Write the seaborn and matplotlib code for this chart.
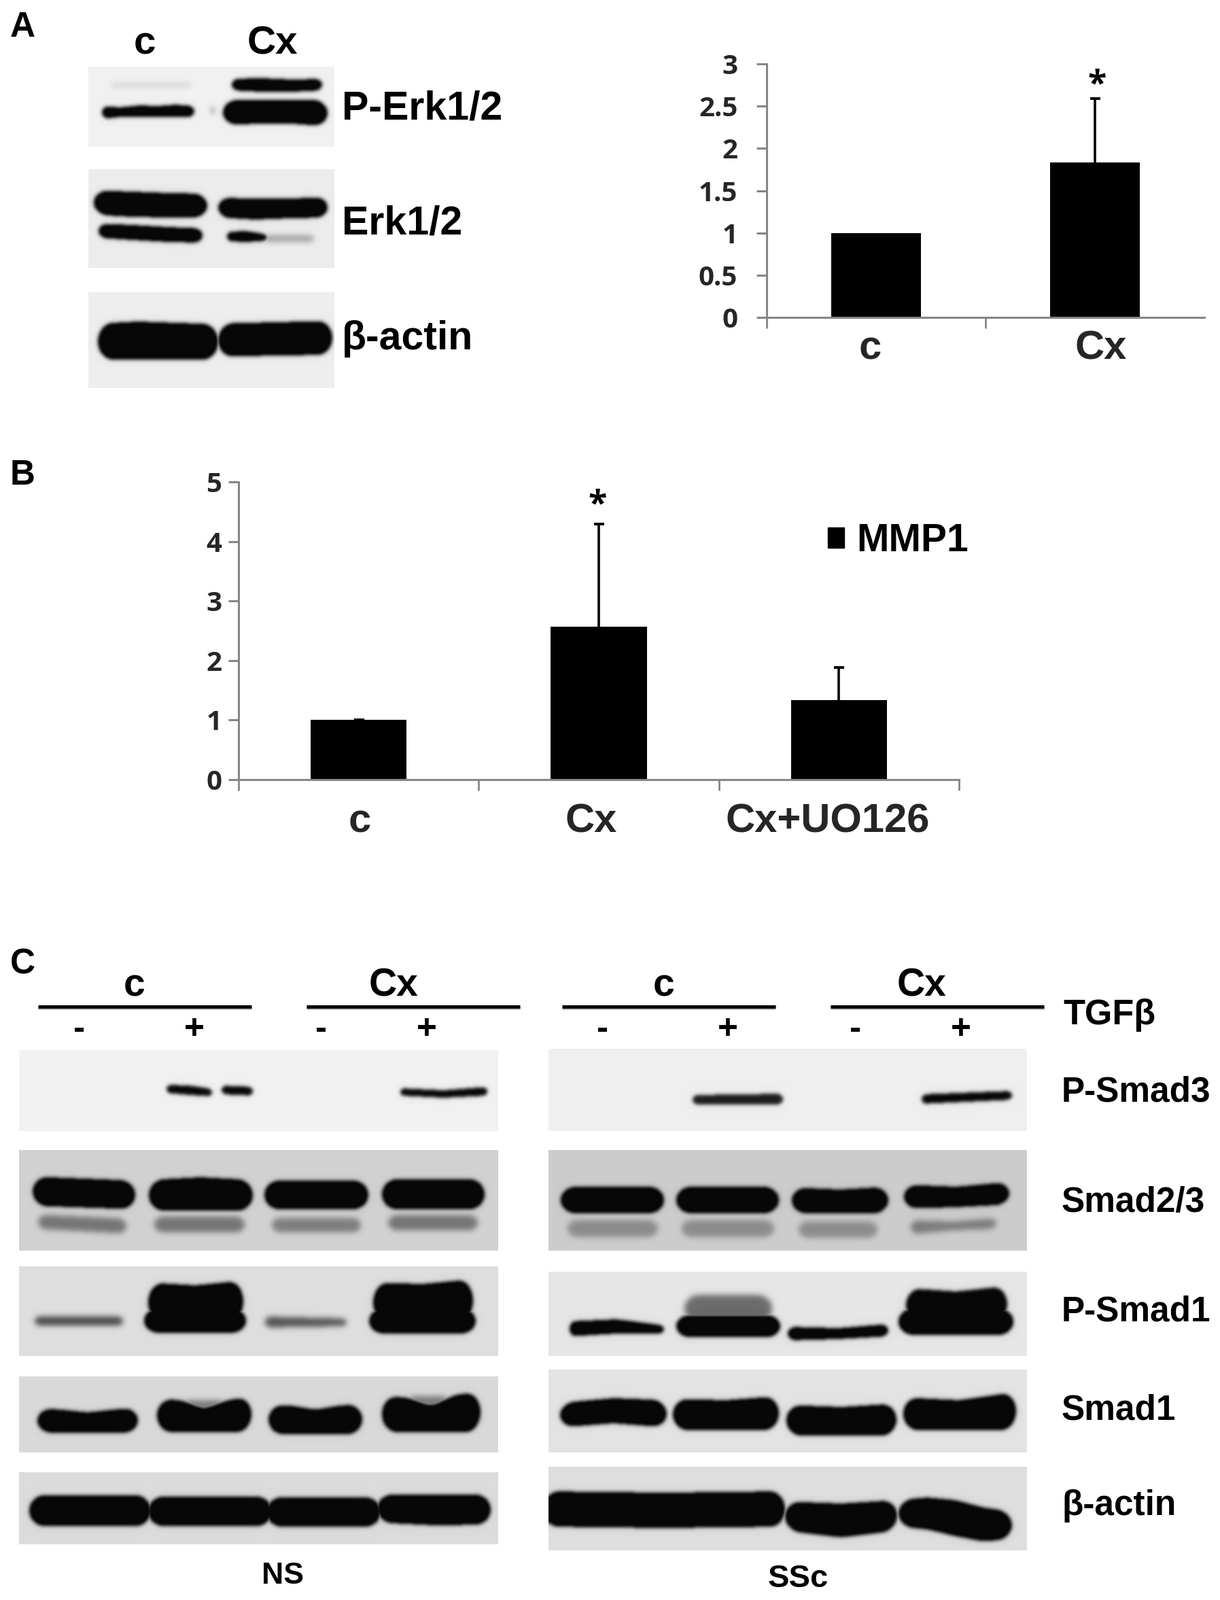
import numpy as np
import matplotlib
matplotlib.use("Agg")
import matplotlib.pyplot as plt
from matplotlib.patches import Patch
from matplotlib.transforms import ScaledTranslation
import seaborn as sns

# ---------- chart data ----------
A_CATEGORIES = ["c", "Cx"]
A_VALUES = [1.0, 1.83]
A_ERR_TOPS = [1.0, 2.59]
A_YTICKS = [0, 0.5, 1, 1.5, 2, 2.5, 3]
A_YLABELS = ["0", "0.5", "1", "1.5", "2", "2.5", "3"]

B_CATEGORIES = ["c", "Cx", "Cx+UO126"]
B_VALUES = [1.0, 2.57, 1.34]
B_ERR_TOPS = [1.01, 4.29, 1.88]
B_YTICKS = [0, 1, 2, 3, 4, 5]
B_SERIES = "MMP1"

# ---------- blot artwork: (x0, x1, top(s), bottom(s), darkness) in image pixels ----------
BLOTS = [
    # panel A
    (130, 492, 98, 216, 0.945, [
        (163, 281, 121, 129, 0.10),
        (150, 286, (156, 158, 155, 156, 154, 156), (175, 172, 172, 172, 172, 172), 1),
        (341, 474, (116, 115, 117, 116), (133, 135, 135, 133), 1),
        (328, 482, 147, (184, 182, 182, 186), 1), (311, 315, 157, 168, 0.5)]),
    (130, 492, 249, 394, 0.925, [
        (138, 305, (280, 282, 284, 285), (316, 319, 320, 320), 1),
        (321, 482, (291, 292, 292, 290), (320, 323, 321, 320), 1),
        (145, 298, (329, 331, 334, 336), (350, 353, 356, 357), 1),
        (334, 393, (341, 340, 345), (355, 356, 354), 1), (388, 462, 346, 356, 0.30)]),
    (130, 492, 430, 571, 0.93, [
        (144, 321, (476, 473, 475, 477), 529, 1), (321, 489, (476, 474, 472), (525, 523, 522), 1)]),
    # panel C, NS
    (28, 733, 1545, 1664, 0.945, [
        (245, 312, (1596, 1597, 1602), (1608, 1611, 1613), 0.95), (326, 372, (1597, 1599), (1610, 1612), 0.95),
        (589, 717, (1601, 1604, 1599), (1612, 1615, 1612), 0.95)]),
    (28, 733, 1692, 1840, 0.82, [
        (48, 199, (1731, 1737), (1774, 1779), 1), (219, 372, (1736, 1732, 1736), 1781, 1),
        (389, 542, 1737, 1779, 1), (562, 713, 1735, 1779, 1),
        (56, 186, (1787, 1793), (1808, 1815), 0.42), (227, 360, 1790, 1813, 0.42),
        (400, 531, 1792, 1813, 0.38), (571, 703, 1788, 1810, 0.42)]),
    (28, 733, 1863, 1995, 0.87, [
        (51, 181, 1937, 1950, 0.65),
        (218, 358, (1887, 1891, 1884), 1945, 1), (212, 362, 1925, 1961, 1),
        (390, 510, (1937, 1940), (1953, 1951), 0.6),
        (549, 696, (1887, 1889, 1882), 1945, 1), (543, 700, 1925, 1962, 1)]),
    (28, 733, 2025, 2137, 0.85, [
        (55, 203, (2072, 2074, 2078, 2074, 2071), 2108, 1),
        (231, 370, (2058, 2060, 2072, 2060, 2054), 2107, 1), (270, 330, 2060, 2076, 0.4),
        (395, 533, (2067, 2068, 2074, 2068, 2066), 2110, 1),
        (562, 707, (2054, 2056, 2068, 2052, 2048), 2107, 1), (600, 660, 2054, 2072, 0.4)]),
    (28, 733, 2166, 2272, 0.86, [
        (43, 222, 2200, 2245, 1), (218, 400, 2202, 2245, 1), (392, 560, 2203, 2246, 1),
        (555, 722, 2199, (2240, 2244, 2243), 1)]),
    # panel C, SSc
    (807, 1511, 1543, 1664, 0.935, [
        (1019, 1152, (1611, 1609), 1625, 0.85), (1356, 1489, (1610, 1605), (1624, 1618), 0.95)]),
    (807, 1511, 1692, 1840, 0.80, [
        (825, 977, 1746, 1785, 1), (995, 1146, 1746, 1785, 1), (1165, 1307, (1747, 1750, 1746), 1785, 1),
        (1330, 1485, (1743, 1746, 1739), (1778, 1776, 1772), 1),
        (835, 968, 1795, 1820, 0.30), (1003, 1139, 1795, 1820, 0.30),
        (1175, 1291, 1797, 1821, 0.30), (1340, 1466, (1795, 1797, 1792), (1816, 1810, 1808), 0.38)]),
    (807, 1511, 1871, 1995, 0.90, [
        (838, 977, (1944, 1941, 1950), (1966, 1962, 1962), 1), (995, 1148, 1935, 1967, 1),
        (1007, 1136, 1905, 1945, 0.5),
        (1159, 1307, (1952, 1954, 1948), (1972, 1970, 1966), 1), (1322, 1491, 1925, 1964, 1),
        (1333, 1482, (1895, 1900, 1892), 1945, 0.95)]),
    (807, 1511, 2015, 2137, 0.89, [
        (824, 981, (2064, 2057, 2060), (2100, 2094, 2100), 1), (990, 1146, (2058, 2060, 2054), 2104, 1),
        (1157, 1319, (2067, 2070, 2065), 2112, 1), (1329, 1495, (2056, 2060, 2048), 2104, 1)]),
    (807, 1511, 2158, 2281, 0.87, [
        (800, 1155, (2194, 2196, 2194), (2246, 2248, 2246), 1),
        (1155, 1320, (2209, 2212, 2207), (2252, 2262, 2252), 1),
        (1322, 1489, (2207, 2203, 2207, 2218, 2224), (2246, 2250, 2260, 2268, 2264), 1)]),
]

W, H = 1795, 2354
sns.set_theme(style="white")
plt.rcParams["font.family"] = ["Liberation Sans", "DejaVu Sans"]
plt.rcParams["text.color"] = "black"

fig = plt.figure(figsize=(W / 100, H / 100), dpi=100, facecolor="white")


def ax_px(left, top, right, bottom):
    return fig.add_axes([left / W, 1 - bottom / H, (right - left) / W, (bottom - top) / H])


def smooth(arr, sigma):
    r = int(3 * sigma)
    k = np.exp(-0.5 * (np.arange(-r, r + 1) / sigma) ** 2)
    k /= k.sum()
    pad = np.pad(arr, r, mode="edge")
    pad = np.apply_along_axis(lambda v: np.convolve(v, k, mode="same"), 0, pad)
    pad = np.apply_along_axis(lambda v: np.convolve(v, k, mode="same"), 1, pad)
    return pad[r:-r, r:-r]


def render_blot(x0, x1, y0, y1, bg, bands):
    nx, ny = x1 - x0, y1 - y0
    ys, xs = np.mgrid[y0:y1, x0:x1] + 0.5
    dark = np.zeros((ny, nx))
    for bx0, bx1, top, bot, d in bands:
        pos = (xs[0] - bx0) / (bx1 - bx0)
        t = np.atleast_1d(top).astype(float)
        b = np.atleast_1d(bot).astype(float)
        tt = np.interp(pos, np.linspace(0, 1, len(t)), t) if len(t) > 1 else np.full(nx, t[0])
        bb = np.interp(pos, np.linspace(0, 1, len(b)), b) if len(b) > 1 else np.full(nx, b[0])
        tt = smooth(np.tile(tt, (3, 1)), 5)[1]
        bb = smooth(np.tile(bb, (3, 1)), 5)[1]
        cy, hh = (tt + bb) / 2, (bb - tt) / 2
        r = min(np.mean(hh) * 1.2, (bx1 - bx0) / 2, 22)
        dist = np.minimum(xs[0] - bx0, bx1 - xs[0])
        f = np.where(dist >= r, 1.0,
                     np.sqrt(np.clip(1 - ((r - np.clip(dist, 0, r)) / r) ** 2, 0, 1)))
        inside = (np.abs(ys - cy) <= hh * f) & (dist > 0)
        sig = 2.6 if d >= 0.8 else 4.0
        dark = np.maximum(dark, smooth(inside.astype(float), sig) * d)
    halo = smooth(dark, 7) * 0.10
    img = bg * (1 - np.clip(dark + halo, 0, 1)) + 0.03 * dark
    return np.clip(img, 0, 1)


# background layer in image pixels
bgax = fig.add_axes([0, 0, 1, 1], zorder=0)
bgax.set_xlim(0, W)
bgax.set_ylim(H, 0)
bgax.axis("off")
for x0, x1, y0, y1, bg, bands in BLOTS:
    bgax.imshow(render_blot(x0, x1, y0, y1, bg, bands), cmap="gray", vmin=0, vmax=1,
                extent=(x0, x1, y1, y0), aspect="auto", interpolation="bilinear")
bgax.set_xlim(0, W)
bgax.set_ylim(H, 0)

GRAY = "#868686"
TICK_FONT = "Open Sans"


def bar_panel(box, cats, vals, tops, ylim, yticks, ylabels, width, bound_ticks, label_pos, pad_y, pad_x, star_x, star_y):
    ax = ax_px(*box)
    ax.set_zorder(2)
    ax.patch.set_alpha(0)
    sns.barplot(x=cats, y=vals, color="black", saturation=1, width=width, ax=ax, edgecolor="none")
    v, tp = np.array(vals), np.array(tops)
    x = np.arange(len(cats))
    keep = tp > v
    eb = ax.errorbar(x[keep], v[keep], yerr=[np.zeros(keep.sum()), (tp - v)[keep]], fmt="none",
                     ecolor="black", elinewidth=2.6, capsize=5.4, capthick=2.8, zorder=1)
    eb[1][0].set_visible(False)
    ax.set_xlim(-0.5, len(cats) - 0.5)
    ax.set_ylim(*ylim)
    ax.set_yticks(yticks)
    ax.set_yticklabels(ylabels, family=TICK_FONT, fontweight="bold", fontsize=29)
    shift = ScaledTranslation(0, -3 / 100, fig.dpi_scale_trans)
    for lab in ax.get_yticklabels():
        lab.set_transform(lab.get_transform() + shift)
    ax.set_xticks(label_pos)
    ax.set_xticklabels(cats, family="Liberation Sans", fontweight="bold", fontsize=43)
    ax.set_xticks(bound_ticks, minor=True)
    ax.tick_params(axis="x", which="major", length=0, pad=pad_x)
    ax.tick_params(axis="x", which="minor", length=11.5, width=2, color=GRAY, bottom=True)
    ax.tick_params(axis="y", which="major", length=10.8, width=2.2, color=GRAY, pad=pad_y, left=True)
    for s in ("top", "right"):
        ax.spines[s].set_visible(False)
    for s in ("left", "bottom"):
        ax.spines[s].set_color(GRAY)
        ax.spines[s].set_linewidth(2.2)
    ax.grid(False)
    fig.text(star_x / W, 1 - star_y / H, "*", family=TICK_FONT, fontweight="bold", fontsize=36,
             ha="center", va="center", zorder=5)
    return ax


bar_panel((1128, 94, 1772, 467), A_CATEGORIES, A_VALUES, A_ERR_TOPS, (0, 3), A_YTICKS, A_YLABELS, 0.41,
          [-0.5, 0.5], [-0.028, 1.028], 20, 13, 1614, 125)
axb = bar_panel((351, 709, 1411, 1147), B_CATEGORIES, B_VALUES, B_ERR_TOPS, (0, 5), B_YTICKS,
                [str(t) for t in B_YTICKS], 0.40, [-0.5, 0.5, 1.5, 2.5], [0.004, 0.969, 1.954], 7, 25, 879, 743)
fig.legend(handles=[Patch(color="black", label=B_SERIES)], loc="center left",
           bbox_to_anchor=(1218 / W, 1 - 796 / H), bbox_transform=fig.transFigure, frameon=False,
           borderpad=0, borderaxespad=0, handlelength=0.42, handleheight=0.44, handletextpad=0.32,
           prop={"family": "Liberation Sans", "weight": "bold", "size": 41})


def txt(x, y, s, size, ha="center"):
    fig.text(x / W, 1 - y / H, s, fontsize=size, fontweight="bold", ha=ha, va="center",
             family=["Liberation Sans", "DejaVu Sans"], zorder=5)


# panel letters
txt(33, 40, "A", 37)
txt(33, 699, "B", 37)
txt(33, 1419, "C", 37)

# panel A labels
txt(213, 64, "c", 42)
txt(401, 64, "Cx", 42)
txt(503, 160, "P-Erk1/2", 42.5, "left")
txt(503, 329, "Erk1/2", 42.5, "left")
txt(503, 498, "β-actin", 42.5, "left")

# panel C header
for x, s in [(198, "c"), (579, "Cx"), (977, "c"), (1356, "Cx")]:
    txt(x, 1450, s, 41)
for x, s in [(116, "-"), (286, "+"), (473, "-"), (628, "+"),
             (887, "-"), (1071, "+"), (1259, "-"), (1414, "+")]:
    txt(x, 1514, s, 37)
for x0, x1 in [(56, 370), (451, 765), (827, 1141), (1222, 1536)]:
    bgax.plot([x0, x1], [1483, 1483], color="#bbbbbb", lw=3.5, solid_capstyle="butt", zorder=4)
    bgax.plot([x0, x1], [1481, 1481], color="black", lw=3.6, solid_capstyle="butt", zorder=5)
txt(1564, 1493, "TGFβ", 37.5, "left")
for y, s in [(1607, "P-Smad3"), (1770, "Smad2/3"), (1930, "P-Smad1"), (2075, "Smad1"), (2216, "β-actin")]:
    txt(1562, y, s, 37, "left")
txt(416, 2318, "NS", 32)
txt(1174, 2323, "SSc", 34)

fig.savefig("out.png", dpi=100, facecolor="white")
